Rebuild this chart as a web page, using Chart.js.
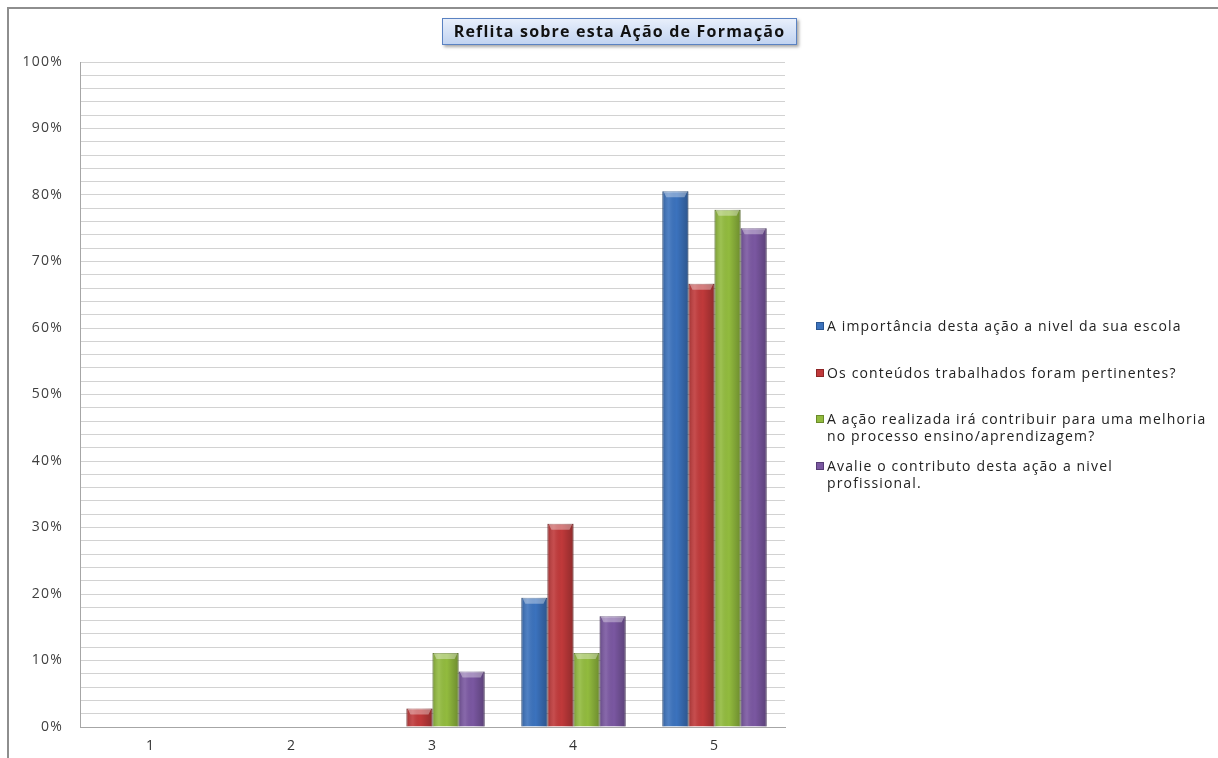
<!DOCTYPE html>
<html><head><meta charset="utf-8">
<script src="https://cdn.jsdelivr.net/npm/chart.js@4"></script>
<style>
html,body{margin:0;padding:0;background:#fff;}
#wrap{position:relative;width:1218px;height:758px;overflow:hidden;}
#frame{position:absolute;left:7px;top:7px;width:1230px;height:770px;border-top:2px solid #8e8e8e;border-left:2px solid #8e8e8e;}
#c{position:absolute;left:0;top:0;}
#title{position:absolute;left:442px;top:18px;width:355px;height:27px;box-sizing:border-box;border:1px solid #5a82c2;background:linear-gradient(#e8effb,#c1d3f1);box-shadow:2px 2px 3px rgba(0,0,0,.35);font:bold 16px 'Open Sans';letter-spacing:1.2px;text-align:center;line-height:25px;color:#111;white-space:nowrap;}
#legend{position:absolute;left:814px;top:0;}
.item{position:absolute;left:0;white-space:pre;font:14px 'Open Sans';letter-spacing:1.15px;color:#222;line-height:17px;padding-left:13px;}
.sw{position:absolute;left:2px;top:5px;width:8px;height:8px;box-sizing:border-box;}
</style></head>
<body>
<div id="wrap">
<div id="frame"></div>
<canvas id="c" width="1218" height="758"></canvas>
<div id="title">Reflita sobre esta Ação de Formação</div>
<div id="legend"></div>
</div>
<script>
const chartTitle = 'Reflita sobre esta Ação de Formação';
const categories = ['1', '2', '3', '4', '5'];
const seriesLabels = [
  'A importância desta ação a nivel da sua escola',
  'Os conteúdos trabalhados foram pertinentes?',
  'A ação realizada irá contribuir para uma melhoria\nno processo ensino/aprendizagem?',
  'Avalie o contributo desta ação a nivel\nprofissional.'
];
const importancia = [0, 0, 0, 19.44, 80.56];
const conteudos = [0, 0, 2.78, 30.56, 66.67];
const melhoria = [0, 0, 11.11, 11.11, 77.78];
const profissional = [0, 0, 8.33, 16.67, 75.0];
const seriesColors = ['#3b72bd', '#c0393a', '#92bb3e', '#7a57a1'];
const seriesBorders = ['#2a5590', '#8e2627', '#6a8a2a', '#563c75'];
const yMin = 0, yMax = 100, yStep = 2, yLabelEvery = 10;

const seriesValues = [importancia, conteudos, melhoria, profissional];

const spacing = {
  id: 'spacing',
  beforeUpdate(chart) { chart.ctx.letterSpacing = '1.2px'; },
  beforeDraw(chart) { chart.ctx.letterSpacing = '1.2px'; }
};

const shade = {
  id: 'shade',
  afterDatasetsDraw(chart) {
    const ctx = chart.ctx;
    chart.data.datasets.forEach((ds, di) => {
      const meta = chart.getDatasetMeta(di);
      meta.data.forEach(el => {
        const h = el.base - el.y;
        if (h < 1) return;
        const l = el.x - el.width / 2, w = el.width;
        const g = ctx.createLinearGradient(l, 0, l + w, 0);
        g.addColorStop(0, 'rgba(0,0,0,0.18)');
        g.addColorStop(0.25, 'rgba(255,255,255,0.10)');
        g.addColorStop(0.55, 'rgba(0,0,0,0)');
        g.addColorStop(1, 'rgba(0,0,0,0.25)');
        ctx.save();
        ctx.fillStyle = g;
        ctx.fillRect(l, el.y, w, h);
        const b = Math.min(6, h);
        ctx.beginPath();
        ctx.moveTo(l + 1, el.y);
        ctx.lineTo(l + w - 1, el.y);
        ctx.lineTo(l + w - 4, el.y + b);
        ctx.lineTo(l + 4, el.y + b);
        ctx.closePath();
        ctx.fillStyle = 'rgba(255,255,255,0.35)';
        ctx.fill();
        ctx.restore();
      });
    });
  }
};

new Chart(document.getElementById('c'), {
  type: 'bar',
  data: {
    labels: categories,
    datasets: seriesValues.map((vals, i) => ({
      label: seriesLabels[i],
      data: vals,
      backgroundColor: seriesColors[i],
      borderColor: seriesBorders[i],
      borderWidth: 1,
      borderSkipped: 'bottom',
      barPercentage: 1,
      categoryPercentage: 0.74
    }))
  },
  options: {
    responsive: false,
    animation: false,
    devicePixelRatio: 1,
    layout: { padding: { top: 62, right: 433, left: 0, bottom: 0 } },
    plugins: { legend: { display: false }, title: { display: false }, tooltip: { enabled: false } },
    scales: {
      y: {
        min: yMin, max: yMax,
        afterFit: s => { s.width = 80; },
        ticks: {
          stepSize: yStep, autoSkip: false, padding: 17,
          font: { family: 'Open Sans', size: 14 }, color: '#404040',
          callback: v => (v % yLabelEvery === 0 ? v + '%' : '')
        },
        grid: {
          drawTicks: false,
          color: c => (c.tick && c.tick.value === 0 ? 'rgba(0,0,0,0)' : '#d2d2d2'),
          lineWidth: 1
        },
        border: { display: true, color: '#a6a6a6', width: 1 }
      },
      x: {
        afterFit: s => { s.height = 31; },
        ticks: { padding: 11, font: { family: 'Open Sans', size: 14 }, color: '#333' },
        grid: { display: false, drawTicks: false },
        border: { display: true, color: '#a6a6a6', width: 1 }
      }
    }
  },
  plugins: [spacing, shade]
});

document.getElementById('title').textContent = chartTitle;
const legend = document.getElementById('legend');
seriesLabels.forEach((lab, i) => {
  const it = document.createElement('div');
  it.className = 'item';
  it.style.top = (317 + i * 46.7) + 'px';
  const sw = document.createElement('span');
  sw.className = 'sw';
  sw.style.background = seriesColors[i];
  sw.style.border = '1px solid ' + seriesBorders[i];
  it.appendChild(sw);
  it.appendChild(document.createTextNode(lab));
  legend.appendChild(it);
});
</script>
</body></html>
